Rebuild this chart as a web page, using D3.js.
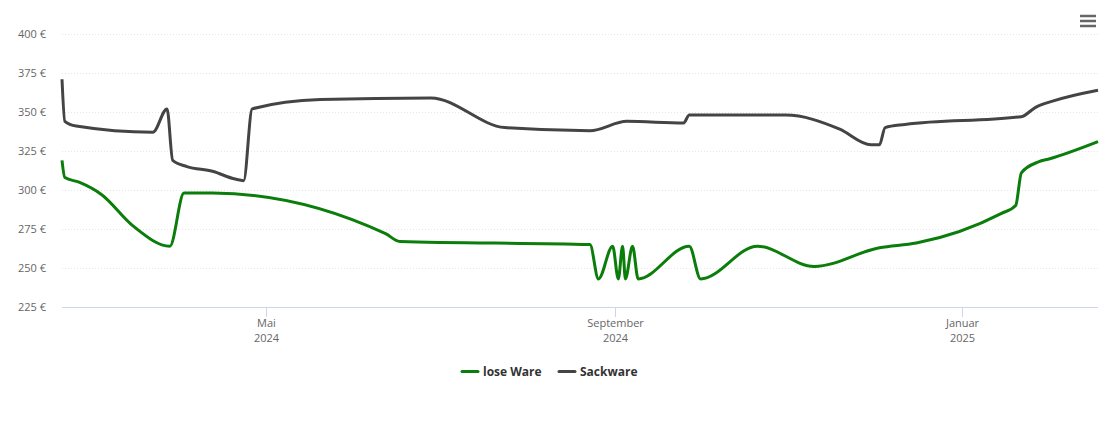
<!DOCTYPE html>
<html><head><meta charset="utf-8">
<script src="https://cdn.jsdelivr.net/npm/d3@7"></script>
<style>body{margin:0;background:#fff;font-family:"Open Sans","DejaVu Sans",sans-serif}</style>
</head><body><svg id="c" width="1110" height="422"></svg>
<script>
const yTicks=[225,250,275,300,325,350,375,400];
const xTickDates=["2024-05-01","2024-09-01","2025-01-01"];
const xTickLabels=[["Mai","2024"],["September","2024"],["Januar","2025"]];
const seriesNames=["lose Ware","Sackware"];
const loseDates=["2024-02-19","2024-02-20","2024-02-25","2024-03-04","2024-03-15","2024-03-28","2024-04-02","2024-04-12","2024-06-12","2024-06-17","2024-08-23","2024-08-26","2024-08-31","2024-09-02","2024-09-03T12:00","2024-09-04T12:00","2024-09-07","2024-09-09","2024-09-27","2024-10-01","2024-10-21","2024-11-10","2024-12-03","2024-12-16","2025-01-15","2025-01-20","2025-01-22","2025-01-28","2025-02-01","2025-02-18"];
const loseValues=[319,308,305,297,277,264,298,298,272,267,265,243,264,243,264,243,264,243,264,243,264,251,263,266,285,290,311,318,320,331];
const sackDates=["2024-02-19","2024-02-20","2024-02-24","2024-03-22","2024-03-27","2024-03-29","2024-04-03","2024-04-12","2024-04-20","2024-04-23","2024-04-26","2024-05-20","2024-06-28","2024-07-24","2024-08-23","2024-09-05","2024-09-25","2024-09-27","2024-10-31","2024-11-19","2024-11-30","2024-12-03","2024-12-05","2024-12-12","2025-01-22","2025-01-27","2025-02-02","2025-02-18"];
const sackValues=[371,344,341,337,352,319,315,312,307,306,352,358,359,340,338,344,343,348,348,339,329,329,340,342,347,353,357,364];
const colors=["#0b7d0b","#444444"];

const svg=d3.select("#c");
const x=d3.scaleTime().domain([new Date("2024-02-19"),new Date("2025-02-18")]).range([62,1098]);
const y=d3.scaleLinear().domain([225,400]).range([307,34]);
svg.append("g").selectAll("line").data(yTicks.slice(1)).join("line")
 .attr("x1",62).attr("x2",1098).attr("y1",d=>y(d)+0.5).attr("y2",d=>y(d)+0.5).attr("stroke","#e6e6e6").attr("stroke-dasharray","1,2");
svg.append("g").selectAll("text").data(yTicks).join("text")
 .attr("x",46).attr("y",d=>y(d)+4).attr("text-anchor","end").attr("font-size",11).attr("fill","#666").text(d=>d+" €");
svg.append("line").attr("x1",62).attr("x2",1098).attr("y1",307.5).attr("y2",307.5).attr("stroke","#ccd6eb");
const xt=svg.append("g").selectAll("g").data(xTickDates).join("g").attr("transform",d=>`translate(${Math.round(x(new Date(d)))+0.5},0)`);
xt.append("line").attr("y1",307).attr("y2",317).attr("stroke","#ccd6eb");
xt.append("text").attr("y",327).attr("text-anchor","middle").attr("font-size",11).attr("fill","#666").text((d,i)=>xTickLabels[i][0]);
xt.append("text").attr("y",342).attr("text-anchor","middle").attr("font-size",11).attr("fill","#666").text((d,i)=>xTickLabels[i][1]);
const line=d3.line().x(d=>x(d[0])).y(d=>y(d[1])).curve(d3.curveMonotoneX);
[[sackDates,sackValues,1],[loseDates,loseValues,0]].forEach(([ds,vs,c])=>{
 svg.append("path").attr("d",line(ds.map((d,i)=>[new Date(d),vs[i]]))).attr("fill","none").attr("stroke",colors[c]).attr("stroke-width",3).attr("stroke-linejoin","round");
});
const lg=svg.append("g");
[[462,0],[559,1]].forEach(([lx,i])=>{
 lg.append("line").attr("x1",lx).attr("x2",lx+16).attr("y1",371.5).attr("y2",371.5).attr("stroke",colors[i]).attr("stroke-width",3).attr("stroke-linecap","round");
 lg.append("text").attr("x",lx+21).attr("y",376).attr("font-size",12).attr("font-weight","bold").attr("fill","#333").text(seriesNames[i]);
});
[16,21,26].forEach(yy=>svg.append("line").attr("x1",1080).attr("x2",1096).attr("y1",yy).attr("y2",yy).attr("stroke","#666").attr("stroke-width",2.5));
</script></body></html>
